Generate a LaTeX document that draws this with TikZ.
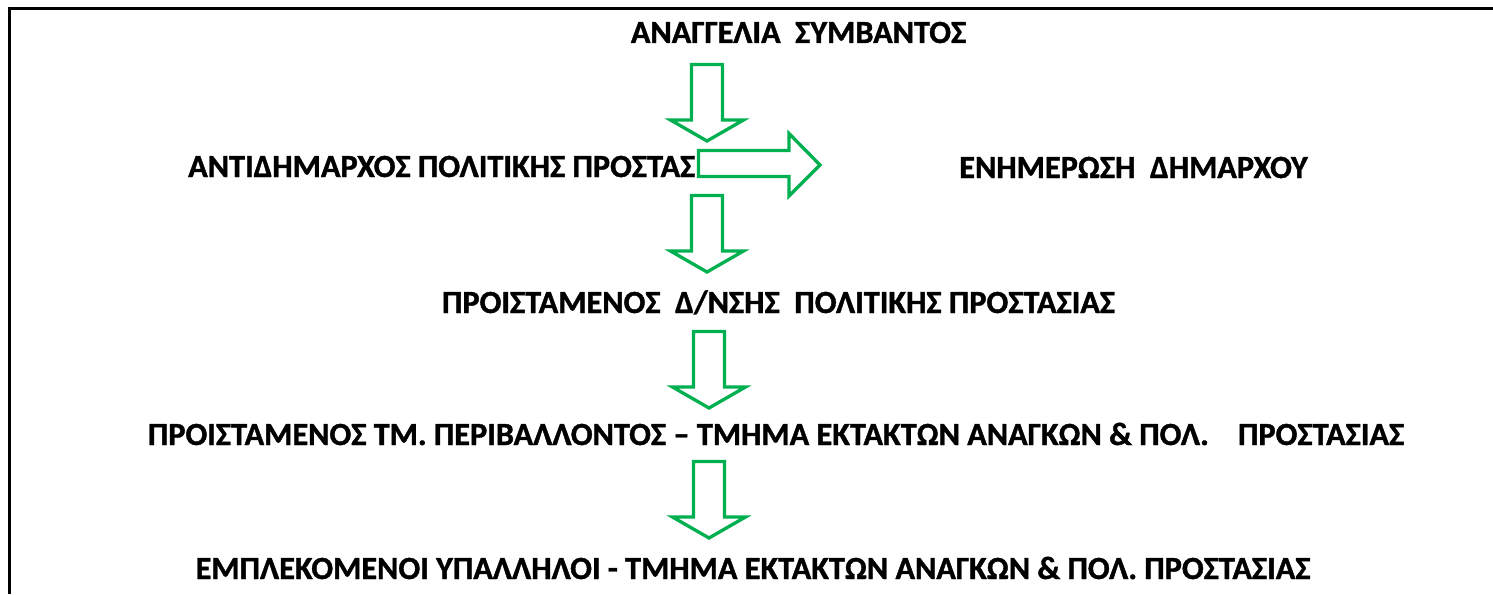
\documentclass[tikz,border=0pt]{standalone}
\usepackage{fontspec}
\setmainfont{Carlito}[BoldFeatures={FakeBold=1.2}]
\definecolor{arrowgreen}{HTML}{00B050}
\begin{document}
\begin{tikzpicture}[x=1pt,y=-1pt,
  lbl/.style={inner sep=0pt,font=\fontsize{32.3}{36}\selectfont\bfseries\frenchspacing},
  blockarrow/.style={draw=arrowgreen,fill=white,line width=3.3pt,line join=miter},
  frameline/.style={line width=3pt,black},
  downarrow/.pic={
    \draw[blockarrow] (-15.5,1.5) -- (15.5,1.5) -- (15.5,57) -- (36.5,57) -- (0,78) -- (-36.5,57) -- (-15.5,57) -- cycle;
  }]
\useasboundingbox (0,0) rectangle (1493,594);
% frame
\coordinate (fTR) at (1493,9);
\coordinate (fTL) at (9,9);
\coordinate (fBL) at (9,594);
\draw[frameline] (fTR) -- (fTL) -- (fBL);
% labels
\node[lbl,anchor=base] (n1) at (798.5,43) {ΑΝΑΓΓΕΛΙΑ\ \ ΣΥΜΒΑΝΤΟΣ};
\node[lbl,anchor=base west] (n2) at (188,177) {ΑΝΤΙΔΗΜΑΡΧΟΣ ΠΟΛΙΤΙΚΗΣ ΠΡΟΣΤΑΣ};
\node[lbl,anchor=base] (n2b) at (1133.5,178) {ΕΝΗΜΕΡΩΣΗ\ \ ΔΗΜΑΡΧΟΥ};
\node[lbl,anchor=base] (n3) at (778.5,313) {ΠΡΟΙΣΤΑΜΕΝΟΣ\ \ Δ/ΝΣΗΣ\ \ ΠΟΛΙΤΙΚΗΣ ΠΡΟΣΤΑΣΙΑΣ};
\node[lbl,anchor=base] (n4) at (776,445) {ΠΡΟΙΣΤΑΜΕΝΟΣ ΤΜ. ΠΕΡΙΒΑΛΛΟΝΤΟΣ – ΤΜΗΜΑ ΕΚΤΑΚΤΩΝ ΑΝΑΓΚΩΝ \& ΠΟΛ.\ \ \ \ ΠΡΟΣΤΑΣΙΑΣ};
\node[lbl,anchor=base] (n5) at (753,579) {ΕΜΠΛΕΚΟΜΕΝΟΙ ΥΠΑΛΛΗΛΟΙ - ΤΜΗΜΑ ΕΚΤΑΚΤΩΝ ΑΝΑΓΚΩΝ \& ΠΟΛ. ΠΡΟΣΤΑΣΙΑΣ};
% arrows
\pic at (707,63) {downarrow};
\pic at (707,194) {downarrow};
\pic at (709,330) {downarrow};
\pic at (709,460) {downarrow};
\draw[blockarrow] (698.5,150.5) -- (789,150.5) -- (789,133.5) -- (820,165) -- (789,196) -- (789,176.5) -- (698.5,176.5) -- cycle;
\end{tikzpicture}
\end{document}
